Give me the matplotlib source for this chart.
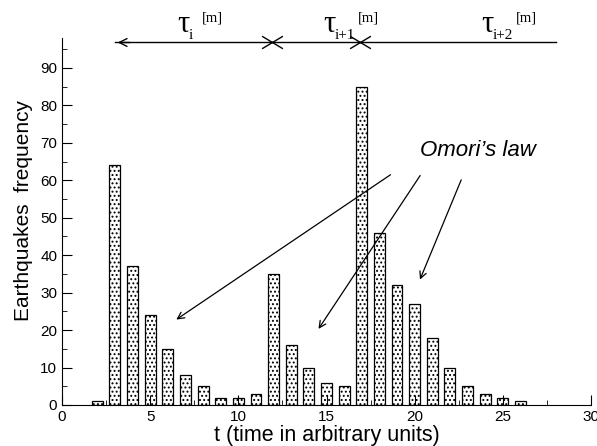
import matplotlib.pyplot as plt
from matplotlib.ticker import MultipleLocator
from matplotlib.path import Path

plt.rcParams['font.family'] = ['Liberation Sans', 'DejaVu Sans']
plt.rcParams['hatch.linewidth'] = 0.9

# histogram data
t = [2, 3, 4, 5, 6, 7, 8, 9, 10, 11, 12, 13, 14, 15, 16, 17, 18, 19, 20, 21, 22, 23, 24, 25, 26]
freq = [1, 64, 37, 24, 15, 8, 5, 2, 2, 3, 35, 16, 10, 6, 5, 85, 46, 32, 27, 18, 10, 5, 3, 2, 1]

# interval boundaries along the top
bounds = [3, 11.9, 16.9, 28]
tau_subs = ['i', 'i+1', 'i+2']
tau_px = [177, 323, 481]   # left edge of each tau, pixels

# Omori arrows: (tail x, tail y, head x, head y)
omori_arrows = [(18.76, 61.9, 6.35, 22.4),
                (20.4, 61.9, 14.46, 19.7),
                (22.7, 60.8, 20.24, 32.8)]

W, H = 597, 446
fig = plt.figure(figsize=(W / 100, H / 100), dpi=100)
ax = fig.add_axes([62 / W, 1 - 405 / H, 529 / W, 367 / H])

ax.bar(t, freq, width=0.62, color='white', edgecolor='black', linewidth=0.9, hatch='....')

ax.set_xlim(0, 30)
ax.set_ylim(0, 98)
ax.spines['top'].set_visible(False)
ax.spines['right'].set_visible(False)
ax.xaxis.set_major_locator(MultipleLocator(5))
ax.xaxis.set_minor_locator(MultipleLocator(2.5))
ax.yaxis.set_major_locator(MultipleLocator(10))
ax.yaxis.set_minor_locator(MultipleLocator(5))
ax.tick_params(which='both', direction='in', labelsize=11)
ax.tick_params(which='major', length=7)
ax.tick_params(which='minor', length=3.5)

ax.set_xlabel('t (time in arbitrary units)', fontsize=15.5, labelpad=1)
ax.set_ylabel('Earthquakes  frequency', fontsize=15, labelpad=5)
ax.yaxis.label.set_y(0.53)

# top interval line
ytop = 96.8
ax.plot([bounds[0], bounds[-1]], [ytop, ytop], color='black', lw=1, clip_on=False)
ax.annotate('', xy=(bounds[0], ytop), xytext=(bounds[0] + 1, ytop),
            arrowprops=dict(arrowstyle='->', lw=1, color='black', mutation_scale=14),
            annotation_clip=False)
cross = Path([(-1, -0.6), (1, 0.6), (-1, 0.6), (1, -0.6)],
             [Path.MOVETO, Path.LINETO, Path.MOVETO, Path.LINETO])
ax.plot(bounds[1:3], [ytop, ytop], ls='none', marker=cross, ms=15, mew=1, color='black', clip_on=False)

for sub, px in zip(tau_subs, tau_px):
    fig.text(px / W, 1 - 32 / H, '\u03c4', fontsize=22, family='Liberation Serif', va='baseline')
    fig.text((px + 12) / W, 1 - 39 / H, sub, fontsize=11, family='Liberation Serif', va='baseline')
    fig.text((px + 20 + 5 * len(sub)) / W, 1 - 21 / H, '[m]', fontsize=10.5, family='Liberation Serif',
             va='baseline')

ax.text(20.3, 68, 'Omori\u2019s law', fontsize=16, style='italic', ha='left', va='center')
for x0, y0, x1, y1 in omori_arrows:
    ax.annotate('', xy=(x1, y1), xytext=(x0, y0),
                arrowprops=dict(arrowstyle='->', lw=0.9, color='black', mutation_scale=12))

fig.savefig('out.png', dpi=100)
